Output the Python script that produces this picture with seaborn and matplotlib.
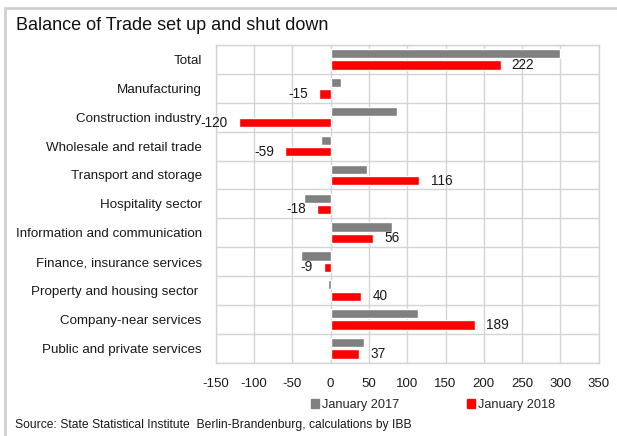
import matplotlib
matplotlib.use("Agg")
import matplotlib.pyplot as plt
from matplotlib.lines import Line2D
from matplotlib.patches import Patch
import numpy as np
import pandas as pd
import seaborn as sns

sectors = [
    "Total",
    "Manufacturing",
    "Construction industry",
    "Wholesale and retail trade",
    "Transport and storage",
    "Hospitality sector",
    "Information and communication",
    "Finance, insurance services",
    "Property and housing sector ",
    "Company-near services",
    "Public and private services",
]
jan_2017 = [300, 13, 87, -13, 48, -35, 80, -38, -4, 114, 44]
jan_2018 = [222, -15, -120, -59, 116, -18, 56, -9, 40, 189, 37]
periods = ["January 2017", "January 2018"]
x_ticks = [-150, -100, -50, 0, 50, 100, 150, 200, 250, 300, 350]

df = pd.DataFrame({
    "sector": sectors * 2,
    "value": jan_2017 + jan_2018,
    "period": [periods[0]] * len(sectors) + [periods[1]] * len(sectors),
})

sns.set_theme(style="white")
plt.rcParams["font.family"] = ["Liberation Sans", "DejaVu Sans"]

W, H = 617, 436
fig = plt.figure(figsize=(W / 100, H / 100), dpi=100)

# axes placed in pixel coordinates
left, right, top, bottom = 215.7, 598.7, 45, 362.7
ax = fig.add_axes([left / W, 1 - bottom / H, (right - left) / W, (bottom - top) / H])

colors = ["#808080", "#ff0000"]
sns.barplot(data=df, y="sector", x="value", hue="period", orient="h",
            palette=colors, width=0.78, gap=0.18, ax=ax, legend=False,
            saturation=1, zorder=3)

ax.set_xlim(-150, 350)
ax.set_ylim(len(sectors) - 0.5, -0.5)
ax.set_xticks(x_ticks)
ax.set_xticklabels([str(t) for t in x_ticks], fontsize=9.5, color="#1a1a1a")
ax.set_yticks(range(len(sectors)))
ax.set_yticklabels(sectors, fontsize=9.6, color="#1a1a1a")
ax.tick_params(axis="x", length=0, pad=11)
ax.tick_params(axis="y", length=0, pad=10)
ax.set_xlabel("")
ax.set_ylabel("")

# grid: vertical at ticks, horizontal between categories
grid_c = "#d4d4d4"
for t in x_ticks:
    ax.axvline(t, color=grid_c, lw=1, zorder=1)
for b in np.arange(-0.5, len(sectors), 1.0):
    ax.axhline(b, color=grid_c, lw=1, zorder=1)
for s in ax.spines.values():
    s.set_color(grid_c)
    s.set_linewidth(1)

# value labels on the 2018 bars
red = ax.containers[1]
ax.bar_label(red, labels=[str(v) for v in jan_2018], padding=8,
             fontsize=9.8, color="#1a1a1a")

# title, source and outer frame
fig.text(16 / W, 1 - 26 / H, "Balance of Trade set up and shut down",
         fontsize=13, va="center", ha="left", color="#111111")
fig.text(15 / W, 1 - 425 / H,
         "Source: State Statistical Institute  Berlin-Brandenburg, calculations by IBB",
         fontsize=8.7, va="center", ha="left", color="#1a1a1a")
fig.add_artist(Line2D([5 / W, 1], [1 - 8 / H, 1 - 8 / H], color="#d0d0d0", lw=2,
                      transform=fig.transFigure))
fig.add_artist(Line2D([5 / W, 5 / W], [0, 1 - 8 / H], color="#d0d0d0", lw=2,
                      transform=fig.transFigure))

handles = [Patch(color=c, label=p) for c, p in zip(colors, periods)]
fig.legend(handles=handles, loc="center", bbox_to_anchor=(433 / W, 1 - 405 / H),
           ncol=2, frameon=False, fontsize=9.2, handlelength=0.6, handleheight=0.6,
           handletextpad=0.25, columnspacing=5.3, borderaxespad=0)

fig.savefig("out.png", dpi=100)
